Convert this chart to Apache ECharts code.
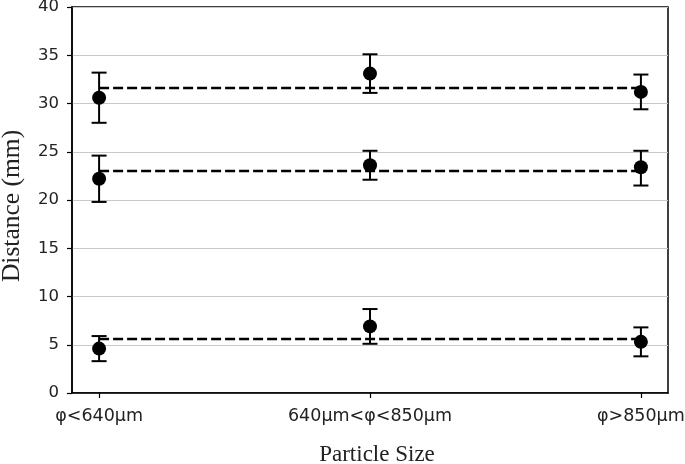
<!DOCTYPE html>
<html><head><meta charset="utf-8">
<script src="https://cdn.jsdelivr.net/npm/echarts@6/dist/echarts.min.js"></script>
<style>html,body{margin:0;padding:0;background:#fff}#c{width:685px;height:464px}</style>
</head><body><div id="c"></div>
<script>
const categories = ['φ<640μm', '640μm<φ<850μm', 'φ>850μm'];
const yTicks = [0, 5, 10, 15, 20, 25, 30, 35, 40];
const seriesA = [30.6, 33.1, 31.2];
const seriesA_low = [28.0, 31.1, 29.4];
const seriesA_high = [33.2, 35.1, 33.0];
const seriesB = [22.2, 23.6, 23.4];
const seriesB_low = [19.8, 22.1, 21.5];
const seriesB_high = [24.6, 25.1, 25.1];
const seriesC = [4.6, 6.9, 5.3];
const seriesC_low = [3.3, 5.1, 3.8];
const seriesC_high = [5.9, 8.7, 6.8];
const meanLines = [31.6, 23.0, 5.6];

const idx = categories.map((c, i) => i);
const groups = [[seriesA, seriesA_low, seriesA_high], [seriesB, seriesB_low, seriesB_high], [seriesC, seriesC_low, seriesC_high]];

const series = [];
meanLines.forEach(m => {
  series.push({
    type: 'line', data: [[0, m], [idx.length - 1, m]], symbol: 'none', z: 2,
    lineStyle: { color: '#000', width: 2.5, type: [10, 4] }, silent: true
  });
});
groups.forEach(g => {
  series.push({
    type: 'custom', z: 3,
    data: idx.map(i => [i, g[1][i], g[2][i]]),
    renderItem: function (params, api) {
      const lo = api.coord([api.value(0), api.value(1)]);
      const hi = api.coord([api.value(0), api.value(2)]);
      const w = 7.5;
      const st = { stroke: '#000', lineWidth: 2 };
      return { type: 'group', children: [
        { type: 'line', shape: { x1: lo[0], y1: lo[1], x2: hi[0], y2: hi[1] }, style: st },
        { type: 'line', shape: { x1: lo[0] - w, y1: lo[1], x2: lo[0] + w, y2: lo[1] }, style: st },
        { type: 'line', shape: { x1: hi[0] - w, y1: hi[1], x2: hi[0] + w, y2: hi[1] }, style: st }
      ]};
    }
  });
  series.push({
    type: 'scatter', z: 4, symbol: 'circle', symbolSize: 14,
    itemStyle: { color: '#000', opacity: 1 },
    data: idx.map(i => [i, g[0][i]])
  });
});

const chart = echarts.init(document.getElementById('c'));
chart.setOption({
  animation: false,
  backgroundColor: '#fff',
  grid: { left: 72, right: 17, top: 7, bottom: 71, outerBoundsMode: 'none', containLabel: false,
          show: true, borderColor: '#000', borderWidth: 1.5, backgroundColor: 'transparent' },
  xAxis: {
    type: 'value', min: -0.1, max: 2.1,
    name: 'Particle Size', nameLocation: 'middle', nameGap: 50,
    nameTextStyle: { fontFamily: 'Liberation Serif', fontSize: 23, color: '#222', padding: [0, 0, 0, 14] },
    axisLine: { show: true, onZero: false, lineStyle: { color: '#000', width: 1.5 } },
    axisTick: { show: true, length: 5, customValues: idx, lineStyle: { color: '#000', width: 1.2 } },
    axisLabel: { customValues: idx, formatter: v => categories[Math.round(v)] || '', fontFamily: 'DejaVu Sans', fontSize: 17.5, color: '#222', margin: 14 },
    splitLine: { show: false }
  },
  yAxis: {
    type: 'value', min: yTicks[0], max: yTicks[yTicks.length - 1], interval: 5,
    name: 'Distance (mm)', nameLocation: 'middle', nameGap: 47,
    nameTextStyle: { fontFamily: 'Liberation Serif', fontSize: 25.5, color: '#222', padding: [0, 12, 0, 0] },
    axisLine: { show: true, onZero: false, lineStyle: { color: '#000', width: 1.5 } },
    axisTick: { show: true, length: 5, lineStyle: { color: '#000', width: 1.2 } },
    axisLabel: { fontFamily: 'DejaVu Sans', fontSize: 16.5, color: '#222', margin: 13 },
    splitLine: { show: true, lineStyle: { color: '#c8c8c8', width: 1 } }
  },
  series: series
});
</script></body></html>
